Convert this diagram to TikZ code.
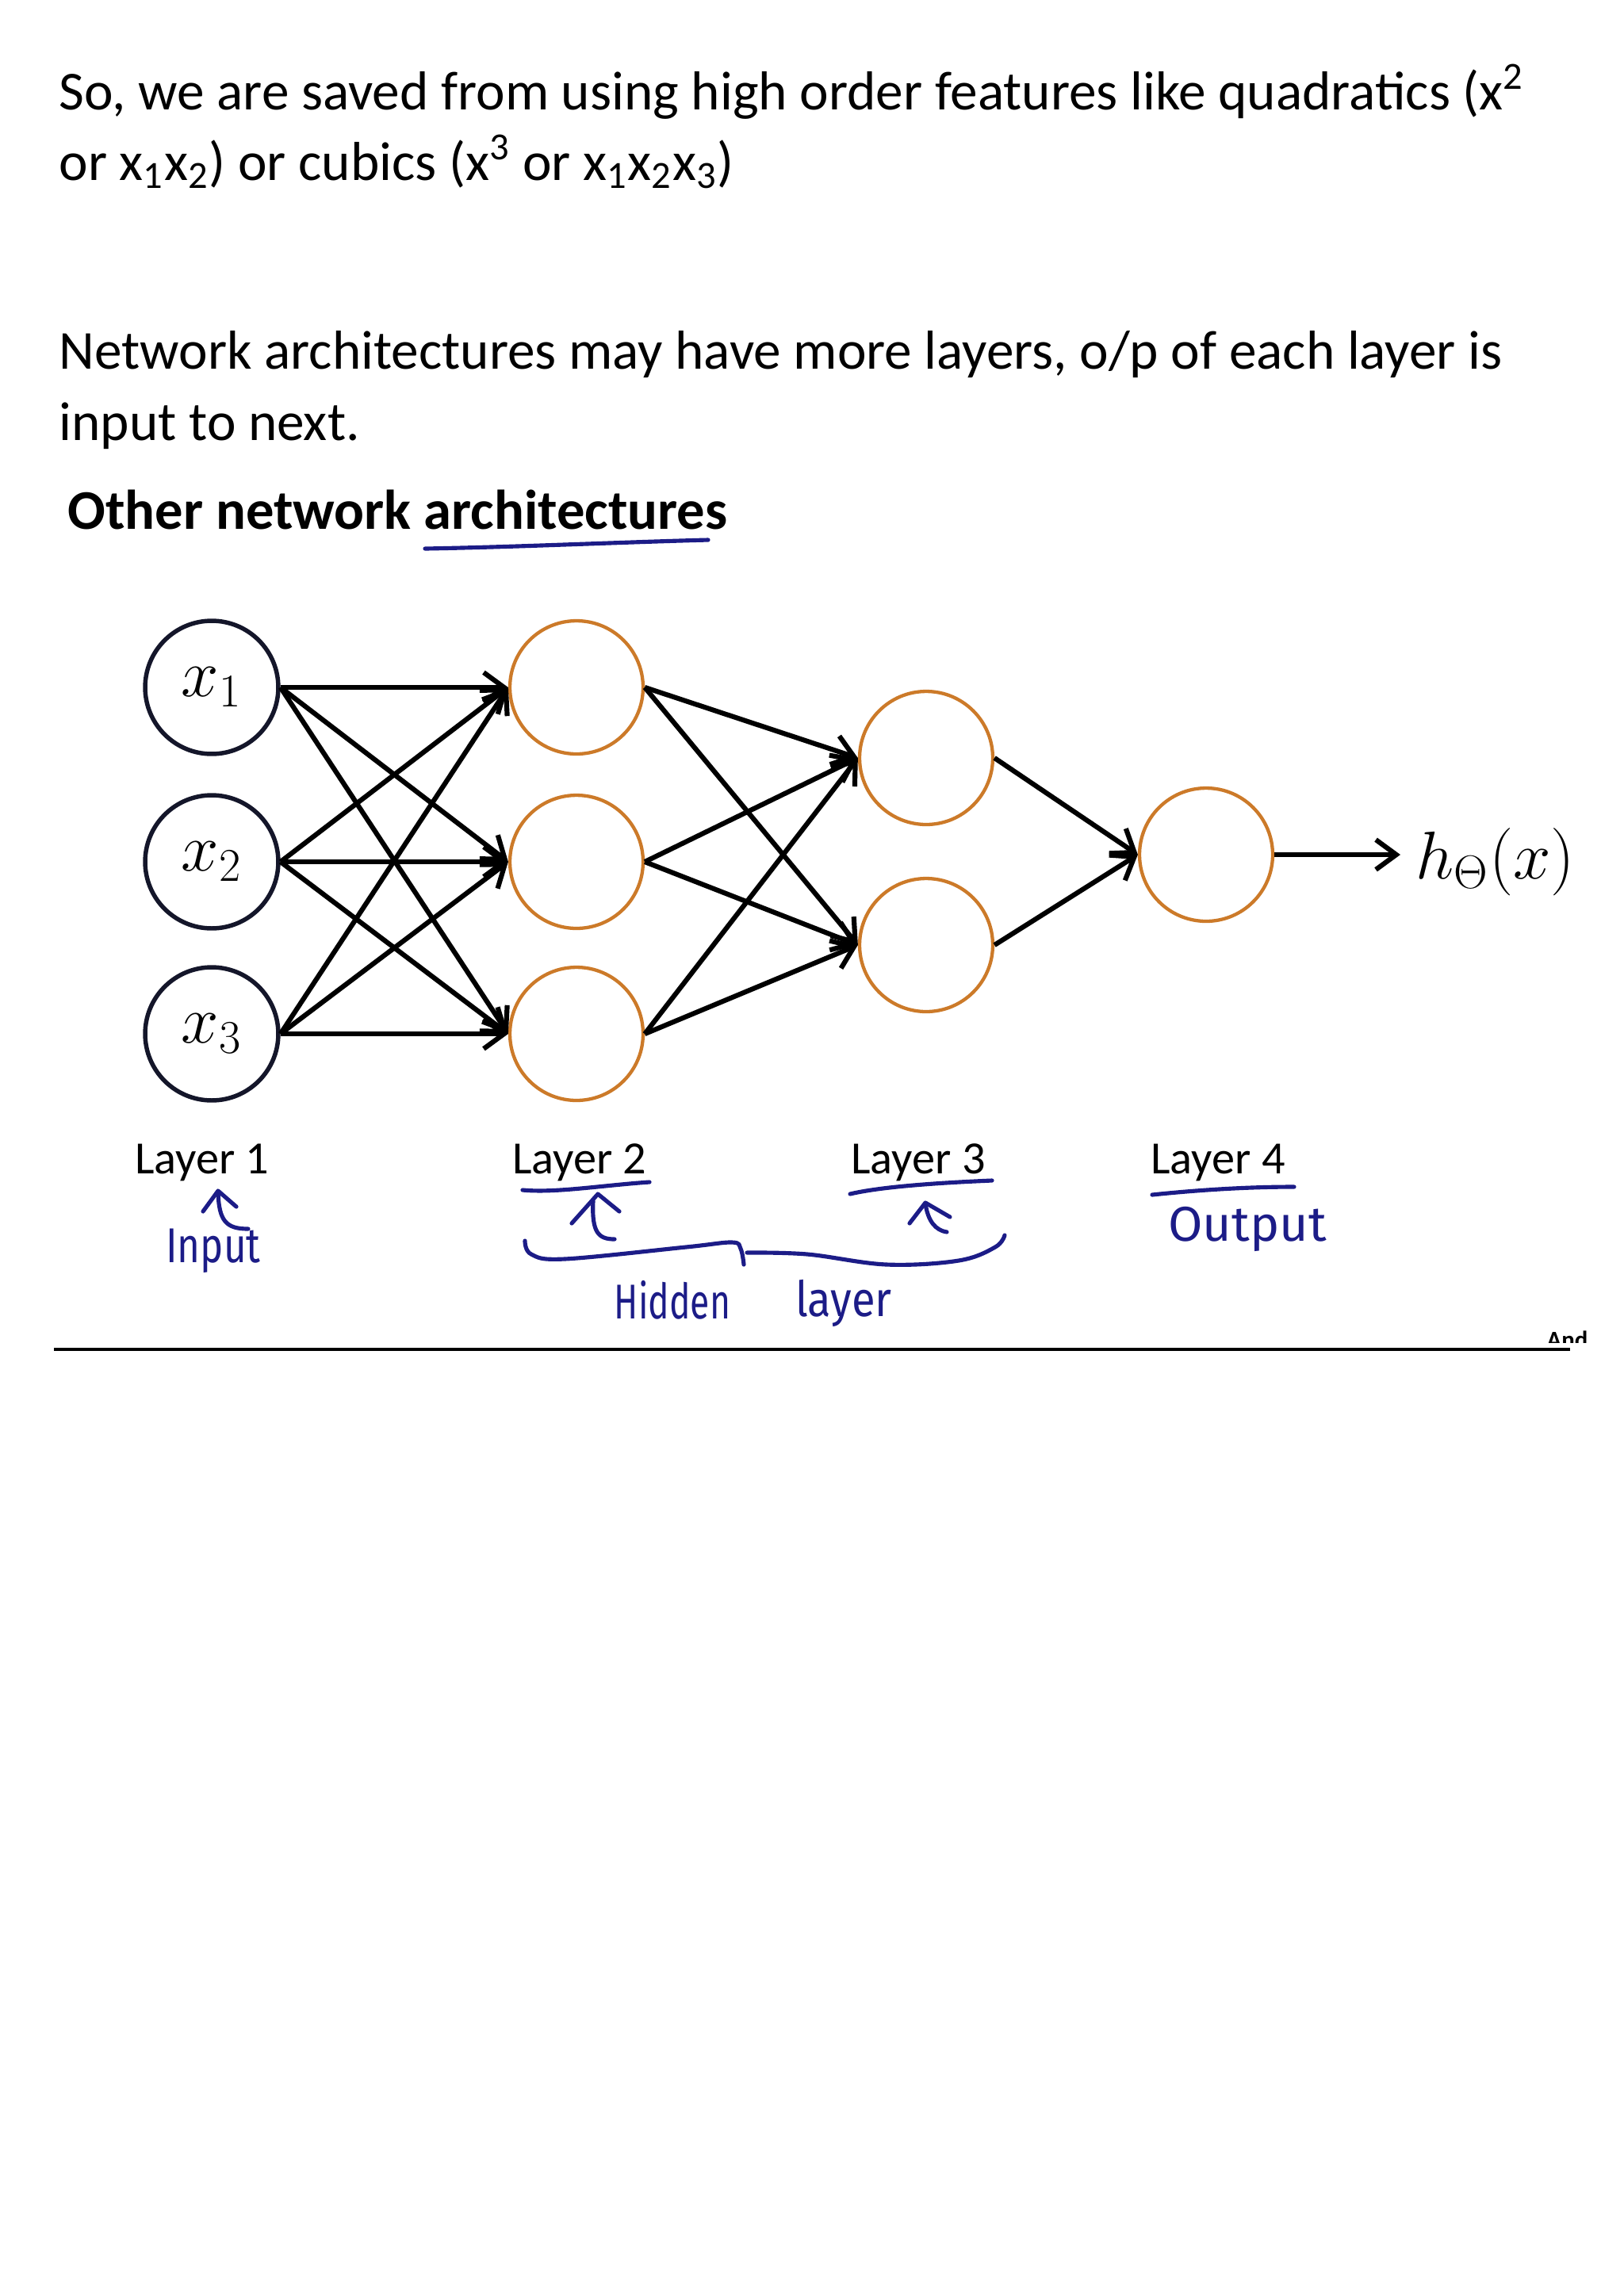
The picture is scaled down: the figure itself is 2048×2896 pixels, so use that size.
\documentclass[tikz,border=0pt]{standalone}
\usepackage[no-math]{fontspec}
\setmainfont{Carlito}
\newfontfamily\handfont{Fira Sans}
\usepackage{amsmath}
\usepackage{graphicx}
\usetikzlibrary{arrows.meta}
\definecolor{inkblue}{RGB}{28,28,135}
\definecolor{unitorange}{RGB}{204,122,41}
\definecolor{inputnavy}{RGB}{20,22,42}

\begin{document}
\begin{tikzpicture}[x=0.01025cm, y=-0.01025cm,
  every node/.style={inner sep=0pt},
  body/.style={font=\fontsize{20.2}{24}\selectfont, anchor=base west},
  inunit/.style={circle, draw=inputnavy, line width=1.6pt, minimum size=49pt, font=\fontsize{23}{28}\selectfont},
  unit/.style={circle, draw=unitorange, line width=1.25pt, minimum size=49pt},
  link/.style={line width=1.8pt, -{Straight Barb[length=7.5pt,width=11pt]}},
  layerlbl/.style={font=\fontsize{17}{20}\selectfont, anchor=base},
  ink/.style={draw=inkblue, line width=1.5pt, line cap=round, line join=round},
  inktext/.style={text=inkblue, font=\handfont\fontsize{18}{22}\selectfont, anchor=base}]
			\useasboundingbox (0,0) rectangle (2048,2896);
			\fill[white] (0,0) rectangle (2048,2896);
			
			\node[body] (line1) at (74,138) {So, we are saved from using high order features like quadratics (x\textsuperscript{2}};
			\node[body] (line2) at (74,227) {or x\textsubscript{1}x\textsubscript{2}) or cubics (x\textsuperscript{3} or x\textsubscript{1}x\textsubscript{2}x\textsubscript{3})};
			\node[body] (line3) at (74,465) {Network architectures may have more layers, o/p of each layer is};
			\node[body] (line4) at (74,555) {input to next.};
			\node[body, font=\fontsize{20.6}{24}\selectfont\bfseries] (title) at (85,667) {Other network architectures};
			\draw[ink] (536,692) .. controls (650,690) and (780,684) .. (893,681);
			
			\node[inunit] (x1) at (267,867) {$x_1$};
			\node[inunit] (x2) at (267,1087) {$x_2$};
			\node[inunit] (x3) at (267,1304) {$x_3$};
			
			\node[unit] (a21) at (727,867) {};
			\node[unit] (a22) at (727,1087) {};
			\node[unit] (a23) at (727,1304) {};
			
			\node[unit] (a31) at (1168,956) {};
			\node[unit] (a32) at (1168,1192) {};
			
			\node[unit] (a41) at (1521,1078) {};
			\coordinate (hend) at (1766,1078);
			\node[anchor=base west, font=\fontsize{23}{28}\selectfont] (hyp) at (1785,1108) {$h_\Theta(x)$};
			
			\draw[link] (x1.east) -- (a21.west);
			\draw[link] (x1.east) -- (a22.west);
			\draw[link] (x1.east) -- (a23.west);
			\draw[link] (x2.east) -- (a21.west);
			\draw[link] (x2.east) -- (a22.west);
			\draw[link] (x2.east) -- (a23.west);
			\draw[link] (x3.east) -- (a21.west);
			\draw[link] (x3.east) -- (a22.west);
			\draw[link] (x3.east) -- (a23.west);
			
			\draw[link] (a21.east) -- (a31.west);
			\draw[link] (a21.east) -- (a32.west);
			\draw[link] (a22.east) -- (a31.west);
			\draw[link] (a22.east) -- (a32.west);
			\draw[link] (a23.east) -- (a31.west);
			\draw[link] (a23.east) -- (a32.west);
			
			\draw[link] (a31.east) -- (a41.west);
			\draw[link] (a32.east) -- (a41.west);
			\draw[link] (a41.east) -- (hend);
			
			\node[layerlbl] (lay1) at (255,1480) {Layer 1};
			\node[layerlbl] (lay2) at (731,1480) {Layer 2};
			\node[layerlbl] (lay3) at (1158,1480) {Layer 3};
			\node[layerlbl] (lay4) at (1536,1480) {Layer 4};
			
			\draw[ink] (659,1501) .. controls (700,1505) and (760,1495) .. (819,1491);
			\draw[ink] (1072,1506) .. controls (1110,1497) and (1180,1492) .. (1251,1489);
			\draw[ink] (1453,1507) .. controls (1520,1500) and (1580,1497) .. (1632,1497);
			
			\draw[ink] (256,1528) -- (275,1502) -- (298,1522);
			\draw[ink] (275,1503) .. controls (276,1540) and (285,1550) .. (313,1550);
			\draw[ink] (721,1543) -- (754,1506) -- (781,1528);
			\draw[ink] (748,1515) .. controls (746,1555) and (755,1563) .. (775,1563);
			\draw[ink] (1147,1543) -- (1167,1517) -- (1198,1535);
			\draw[ink] (1167,1518) .. controls (1170,1540) and (1180,1552) .. (1194,1554);
			
			\draw[ink] plot[smooth, tension=0.6] coordinates {(662,1565) (670,1582) (712,1588) (865,1573) (923,1567) (934,1575) (938,1595)};
			\draw[ink] plot[smooth, tension=0.6] coordinates {(942,1580) (1018,1582) (1118,1595) (1209,1590) (1255,1573) (1267,1558)};
			
			\node[inktext] (inp) at (269,1592) {\scalebox{0.8}[1]{Input}};
			\node[inktext] (hid) at (848,1663) {\scalebox{0.72}[1]{Hidden}};
			\node[inktext] (lyr) at (1064,1660) {\scalebox{0.88}[1]{layer}};
			\node[inktext] (outp) at (1573,1565) {\scalebox{1.02}[1]{Output}};
			
			\draw[line width=1pt] (68,1702) -- (1980,1702);
			\begin{scope}
				\clip (1940,1676) rectangle (2002,1693);
				\node[anchor=base west, font=\fontsize{9}{10}\selectfont\bfseries] (credit) at (1950,1700) {Andrew Ng};
			\end{scope}
		\end{tikzpicture}
\end{document}
